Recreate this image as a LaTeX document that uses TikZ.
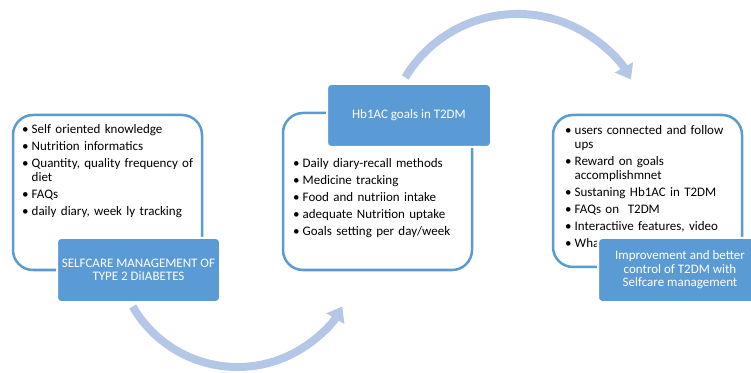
\documentclass[tikz,border=0pt]{standalone}
\usepackage{fontspec}
\setmainfont{Carlito}
\usetikzlibrary{arrows.meta}
\definecolor{boxblue}{HTML}{5B9BD5}
\definecolor{arcblue}{HTML}{B4C7E7}
\newcommand\bitem[1]{\par\noindent\makebox[9.5pt][l]{\textbullet}\parbox[t]{180pt}{\raggedright #1\strut}\par\prevdepth=\dp\strutbox}
\begin{document}
\begin{tikzpicture}[x=1pt,y=1pt,
  outline/.style={draw=boxblue,line width=2.5pt,rounded corners=20pt,inner sep=0pt},
  filled/.style={fill=boxblue,draw=white,line width=2pt,rounded corners=4pt,text=white,align=center,
    font=\fontsize{13}{13.5}\selectfont,inner sep=0pt},
  blist/.style={anchor=north west,inner sep=0pt,text width=200pt,
    font=\fontsize{13}{13.8}\selectfont},
  flow/.style={draw=arcblue,line width=8pt,-{Triangle[width=20pt,length=14pt]}}]
\fill[white] (0,0) rectangle (751,372);
\useasboundingbox (0,0) rectangle (751,372);
% outline boxes
\node[outline,minimum width=189pt,minimum height=155pt] (lbox) at (107.5,179.5) {};
\node[outline,minimum width=189pt,minimum height=157pt] (mbox) at (377.5,180.5) {};
\node[outline,minimum width=189pt,minimum height=152pt] (rbox) at (647.5,181) {};
% bullet lists
\node[blist] (ltext) at (22,255.5) {\setlength{\parskip}{3.2pt}%
  \bitem{Self oriented knowledge}
  \bitem{Nutrition informatics}
  \bitem{Quantity, quality frequency of\\diet}
  \bitem{FAQs}
  \bitem{daily diary, week ly tracking}};
\node[blist] (mtext) at (293,222) {\setlength{\parskip}{3.2pt}%
  \bitem{Daily diary-recall methods}
  \bitem{Medicine tracking}
  \bitem{Food and nutriion intake}
  \bitem{adequate Nutrition uptake}
  \bitem{Goals setting per day/week}};
\node[blist] (rtext) at (565,254.5) {\setlength{\parskip}{3.2pt}%
  \bitem{users connected and follow\\ups}
  \bitem{Reward on goals\\accomplishmnet}
  \bitem{Sustaning Hb1AC in T2DM}
  \bitem{FAQs on~ T2DM}
  \bitem{Interactiive features, video}
  \bitem{Wha}};
% filled boxes
\node[filled,minimum width=163pt,minimum height=64pt] (lhead) at (138.5,102)
  {SELFCARE MANAGEMENT OF\\TYPE 2 DiIABETES};
\node[filled,minimum width=164pt,minimum height=63pt] (mhead) at (409,256.5)
  {Hb1AC goals in T2DM};
\node[filled,minimum width=164pt,minimum height=64pt] (rhead) at (680,102)
  {Improvement and better\\control of T2DM with\\Selfcare management};
% curved arrows
\coordinate (bstart) at (132.7,65.5);
\draw[flow] (bstart) arc[start angle=210,end angle=330,radius=121pt];
\coordinate (tstart) at (405.2,294.5);
\draw[flow] (tstart) arc[start angle=149,end angle=30,radius=131pt];
\end{tikzpicture}
\end{document}
